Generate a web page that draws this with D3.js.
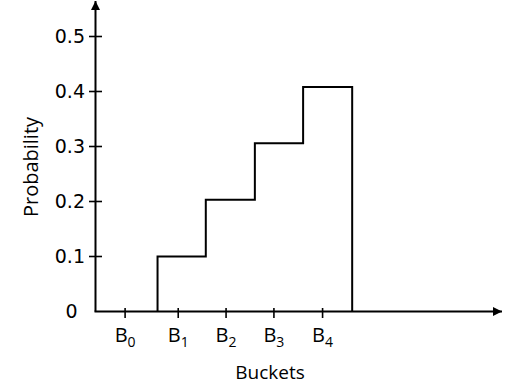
<!DOCTYPE html>
<html>
<head>
<meta charset="utf-8">
<script src="https://cdn.jsdelivr.net/npm/d3@7"></script>
<style>
  html, body { margin: 0; padding: 0; background: #fff; }
  svg { display: block; }
  text { font-family: "Open Sans", Lato, sans-serif; fill: #000; }
  text.num { font-family: "DejaVu Sans", sans-serif; }
</style>
</head>
<body>
<svg id="chart" width="517" height="389"></svg>
<script>
// ---- data ----
const bucketLabels = ["0", "1", "2", "3", "4"];       // subscripts of B
const bucketTickPos = [7.3, 20.4, 32.2, 44.0, 56.0];  // x positions of B ticks (axis units)
const stepEdges = [15.3, 27.2, 39.3, 51.2, 63.3];     // bucket boundaries (axis units)
const stepValues = [0.1, 0.203, 0.306, 0.408];        // probability per bucket
const yTickValues = [0.1, 0.2, 0.3, 0.4, 0.5];
const yTickLabels = ["0.1", "0.2", "0.3", "0.4", "0.5"];
const xTitle = "Buckets";
const yTitle = "Probability";

// ---- layout ----
const svg = d3.select("#chart");
const x = d3.scaleLinear().domain([0, 100]).range([95.5, 501]);
const y = d3.scaleLinear().domain([0, 0.5]).range([311.5, 36.5]);

// arrow marker
const defs = svg.append("defs");
defs.append("marker")
  .attr("id", "arrow")
  .attr("viewBox", "0 0 10 10")
  .attr("refX", 10).attr("refY", 5)
  .attr("markerWidth", 4.5).attr("markerHeight", 4.5)
  .attr("markerUnits", "strokeWidth")
  .attr("orient", "auto")
  .append("path").attr("d", "M0,0 L10,5 L0,10 Z").attr("fill", "#000");

// y axis line with arrow
svg.append("line")
  .attr("x1", x(0)).attr("y1", y(0))
  .attr("x2", x(0)).attr("y2", 1)
  .attr("stroke", "#000").attr("stroke-width", 2)
  .attr("marker-end", "url(#arrow)");

// x axis line with arrow
svg.append("line")
  .attr("x1", x(0) - 1).attr("y1", y(0))
  .attr("x2", x(100) + 1).attr("y2", y(0))
  .attr("stroke", "#000").attr("stroke-width", 2)
  .attr("marker-end", "url(#arrow)");

// y ticks (crossing the axis)
svg.selectAll(".ytick").data(yTickValues).enter().append("line")
  .attr("x1", x(0) - 6.5).attr("x2", x(0) + 6.5)
  .attr("y1", d => y(d)).attr("y2", d => y(d))
  .attr("stroke", "#000").attr("stroke-width", 1.6);

svg.selectAll(".ylab").data(yTickValues).enter().append("text")
  .attr("class", "num")
  .attr("x", 85).attr("y", d => y(d))
  .attr("dy", "0.36em")
  .attr("text-anchor", "end")
  .attr("font-size", 19)
  .text((d, i) => yTickLabels[i]);

// zero label
svg.append("text")
  .attr("class", "num")
  .attr("x", 71.5).attr("y", y(0))
  .attr("dy", "0.36em")
  .attr("text-anchor", "middle")
  .attr("font-size", 19)
  .text("0");

// x ticks
svg.selectAll(".xtick").data(bucketTickPos).enter().append("line")
  .attr("x1", d => x(d)).attr("x2", d => x(d))
  .attr("y1", y(0) - 3.5).attr("y2", y(0) + 6.5)
  .attr("stroke", "#000").attr("stroke-width", 1.6);

const xl = svg.selectAll(".xlab").data(bucketTickPos).enter().append("text")
  .attr("x", d => x(d)).attr("y", 341.5)
  .attr("text-anchor", "middle")
  .attr("font-size", 20);
xl.append("tspan").text("B");
xl.append("tspan").attr("font-size", 14).attr("dy", 5).text((d, i) => bucketLabels[i]);

// step line
const pts = [{x: stepEdges[0], y: 0}]
  .concat(stepValues.map((v, i) => ({x: stepEdges[i], y: v})))
  .concat([{x: stepEdges[stepEdges.length - 1], y: 0}]);
svg.append("path")
  .datum(pts)
  .attr("d", d3.line().x(d => x(d.x)).y(d => y(d.y)).curve(d3.curveStepAfter))
  .attr("fill", "none")
  .attr("stroke", "#000")
  .attr("stroke-width", 2);

// axis titles
svg.append("text")
  .attr("x", 270).attr("y", 379)
  .attr("text-anchor", "middle")
  .attr("font-size", 19)
  .text(xTitle);

svg.append("text")
  .attr("transform", "translate(38,167) rotate(-90)")
  .attr("text-anchor", "middle")
  .attr("font-size", 20)
  .text(yTitle);
</script>
</body>
</html>
